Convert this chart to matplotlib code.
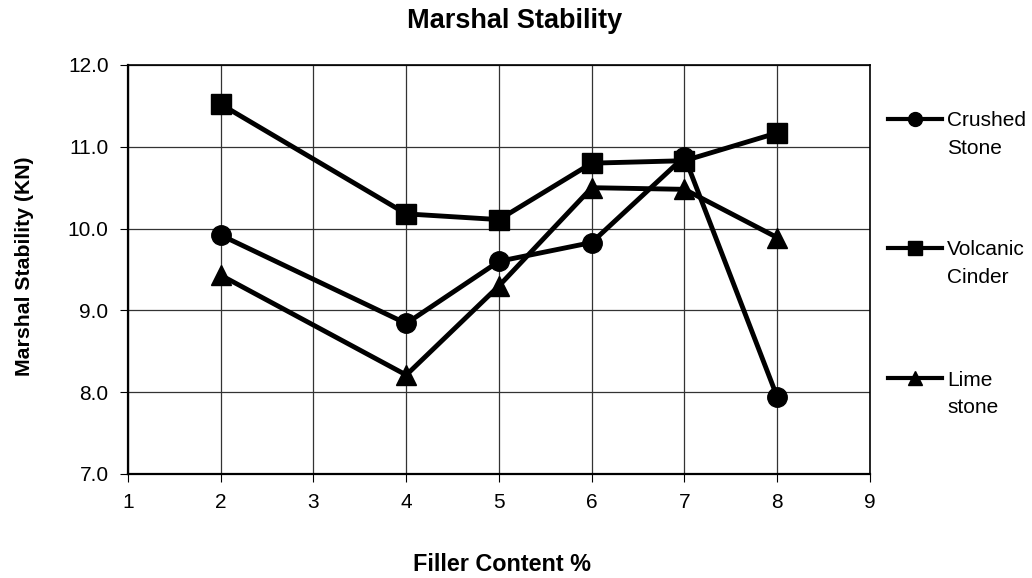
import matplotlib
matplotlib.use("Agg")
import matplotlib.pyplot as plt
from matplotlib.lines import Line2D

plt.rcParams['font.family'] = ['Liberation Sans', 'DejaVu Sans']

# filler content (%) and marshal stability (KN)
filler = [2, 4, 5, 6, 7, 8]
crushed_stone = [9.92, 8.84, 9.60, 9.83, 10.88, 7.94]
volcanic_cinder = [11.52, 10.18, 10.11, 10.80, 10.83, 11.17]
lime_stone = [9.43, 8.21, 9.30, 10.50, 10.48, 9.89]

series_labels = ["Crushed\nStone", "Volcanic\nCinder", "Lime\nstone"]
series_markers = ["o", "s", "^"]
x_ticks = [1, 2, 3, 4, 5, 6, 7, 8, 9]
y_ticks = [7, 8, 9, 10, 11, 12]

W, H = 1032, 578
fig = plt.figure(figsize=(W / 100, H / 100), dpi=100)
ax = fig.add_axes([128 / W, 1 - 474 / H, (870 - 128) / W, (474 - 65) / H])

for ys, mk in zip([crushed_stone, volcanic_cinder, lime_stone], series_markers):
    ax.plot(filler, ys, color='black', lw=3.5, marker=mk, markersize=14,
            markerfacecolor='black', markeredgecolor='black', zorder=3,
            clip_on=False)

ax.set_xlim(1, 9)
ax.set_ylim(7, 12)
ax.set_xticks(x_ticks)
ax.set_yticks(y_ticks)
ax.set_yticklabels([f"{v:.1f}" for v in y_ticks])
ax.tick_params(axis='both', direction='out', length=6, width=0.8,
               labelsize=15, pad=8, colors='black')
ax.grid(True, color='#333333', lw=0.9)
ax.set_axisbelow(True)
for side in ['left', 'bottom']:
    ax.spines[side].set_linewidth(1.6)
for side in ['top', 'right']:
    ax.spines[side].set_linewidth(1.2)

fig.text(515 / W, 1 - 28 / H, "Marshal Stability", ha='center', va='baseline',
         fontsize=19.5, fontweight='bold')
fig.text(502 / W, 1 - 571 / H, "Filler Content %", ha='center', va='baseline',
         fontsize=16.8, fontweight='bold')
fig.text(25 / W, 1 - 266 / H, "Marshal Stability (KN)", ha='center', va='center',
         rotation=90, fontsize=15.3, fontweight='bold')

# legend drawn by hand: handle sits on the first line of each label
legend_y = [119, 248, 378]
for lab, mk, ly in zip(series_labels, series_markers, legend_y):
    yf = 1 - ly / H
    fig.add_artist(Line2D([888 / W, 942 / W], [yf, yf], transform=fig.transFigure,
                          color='black', lw=3))
    fig.add_artist(Line2D([915 / W], [yf], transform=fig.transFigure, color='black',
                          marker=mk, markersize=10, linestyle='none'))
    first, second = lab.split("\n")
    fig.text(947 / W, 1 - (ly + 7.5) / H, first, ha='left', va='baseline', fontsize=15)
    fig.text(947 / W, 1 - (ly + 35) / H, second, ha='left', va='baseline', fontsize=15)

fig.savefig("out.png", dpi=100)
